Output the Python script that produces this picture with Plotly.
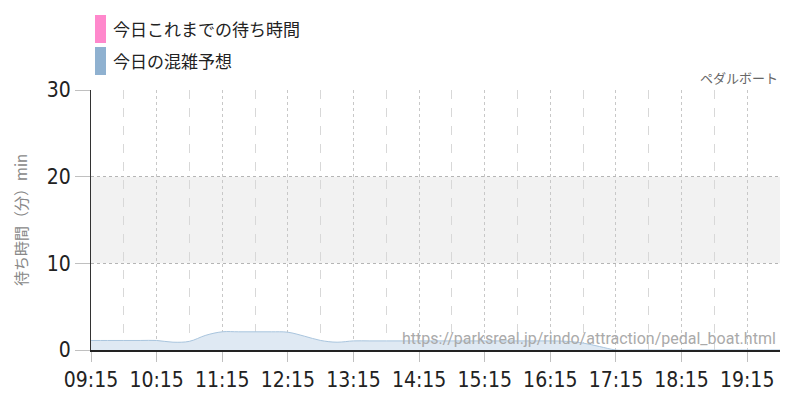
import pandas as pd
import plotly.graph_objects as go

# Datos (intervalos de 15 minutos)
horas = ["09:15", "09:30", "09:45", "10:00", "10:15", "10:30", "10:45", "11:00",
         "11:15", "11:30", "11:45", "12:00", "12:15", "12:30", "12:45", "13:00",
         "13:15", "13:30", "13:45", "14:00", "14:15", "14:30", "14:45", "15:00",
         "15:15", "15:30", "15:45", "16:00", "16:15", "16:30", "16:45", "17:00",
         "17:15", "17:30", "17:45", "18:00", "18:15", "18:30", "18:45", "19:00",
         "19:15", "19:30", "19:45"]
prediccion = [1.1, 1.1, 1.1, 1.1, 1.1, 0.9, 1.0, 1.7,
              2.1, 2.1, 2.1, 2.1, 2.05, 1.6, 1.1, 0.9,
              1.05, 1.05, 1.05, 1.05, 1.05, 1.05, 1.05, 1.05,
              1.05, 1.05, 1.05, 1.05, 1.05, 1.0, 0.8, 0.4,
              0.0, 0.0, 0.0, 0.0, 0.0, 0.0, 0.0, 0.0,
              0.0, 0.0, 0.0]
# hoy hasta ahora: sin datos
horas_real = []
espera_real = []

leyenda = ["今日これまでの待ち時間", "今日の混雑予想"]
colores_leyenda = ["#ff88cc", "#8fb1d0"]
titulo_y = "待ち時間（分）min"
atraccion = "ペダルボート"
url = "https://parksreal.jp/rindo/attraction/pedal_boat.html"

dia = "2024-01-01 "
x_pred = pd.to_datetime([dia + h for h in horas])
x_real = pd.to_datetime([dia + h for h in horas_real])

fuente_num = "DejaVu Sans Condensed, Roboto, sans-serif"

fig = go.Figure()
fig.add_trace(go.Scatter(x=x_pred, y=prediccion, mode='lines', line=dict(color='#a9c5de', width=1, shape='spline'),
                         fill='tozeroy', fillcolor='#dfe9f3', showlegend=False, hoverinfo='skip'))
fig.add_trace(go.Scatter(x=x_real, y=espera_real, mode='lines', line=dict(color='#ff88cc', width=2),
                         showlegend=False))

# banda gris 10-20
fig.add_shape(type='rect', xref='paper', yref='y', x0=0, x1=1, y0=10, y1=20,
              fillcolor='#f2f2f2', line_width=0, layer='below')

# leyenda manual (posiciones en px respecto al area del grafico 91..780 x 90..350)
for i, (txt, col) in enumerate(zip(leyenda, colores_leyenda)):
    top = 15 + 32 * i
    fig.add_shape(type='rect', xref='paper', yref='paper', x0=(95 - 91) / 689, x1=(106 - 91) / 689,
                  y0=(350 - (top + 28)) / 260, y1=(350 - top) / 260,
                  fillcolor=col, line_width=0)
    fig.add_annotation(text=txt, xref='paper', yref='paper', x=(111 - 91) / 689,
                       y=(350 - (top + 14)) / 260, xanchor='left', yanchor='middle', showarrow=False,
                       font=dict(family='Noto Sans CJK JP', size=17, color='#222'))

fig.add_annotation(text=atraccion, xref='paper', yref='paper', x=1, y=(350 - 78) / 260,
                   xanchor='right', yanchor='middle', showarrow=False,
                   font=dict(family='Noto Sans CJK JP', size=13, color='#666'))
fig.add_annotation(text=url, xref='paper', yref='paper', x=(778 - 91) / 689, y=(350 - 338) / 260,
                   xanchor='right', yanchor='middle', showarrow=False,
                   font=dict(family='Roboto', size=16, color='#aaaaaa'))
fig.add_annotation(text=titulo_y, xref='paper', yref='paper', x=-(91 - 20) / 689, y=0.5,
                   xanchor='center', yanchor='middle', showarrow=False, textangle=-90,
                   font=dict(family='Noto Sans CJK JP', size=15, color='#888'))

# la pagina tiene 8px de margen en el body, se compensa aqui
fig.update_layout(
    width=800, height=400,
    margin=dict(l=83, r=28, t=82, b=58, autoexpand=False),
    plot_bgcolor='white', paper_bgcolor='white',
    showlegend=False,
    xaxis=dict(type='date', range=[dia + "09:15", dia + "19:45"], automargin=False,
               tick0=dia + "09:15", dtick=3600000, tickformat='%H:%M',
               showgrid=True, gridcolor='#c8c8c8', griddash='dot', gridwidth=1,
               minor=dict(tick0=dia + "09:45", dtick=3600000, showgrid=True, gridcolor='#d8d8d8', griddash='dash'),
               ticks='outside', ticklen=10, tickcolor='#c0c0c0',
               showline=True, linecolor='#222', linewidth=1.5, zeroline=False,
               tickfont=dict(family=fuente_num, size=21, color='#222')),
    yaxis=dict(range=[0, 30], tickvals=[0, 10, 20, 30], automargin=False,
               showgrid=True, gridcolor='#b5b5b5', griddash='dot', gridwidth=1,
               ticks='outside', ticklen=15, tickcolor='#c0c0c0',
               showline=True, linecolor='#333', linewidth=1, zeroline=False,
               tickfont=dict(family=fuente_num, size=21, color='#222')),
)

fig.write_html("out.html")
